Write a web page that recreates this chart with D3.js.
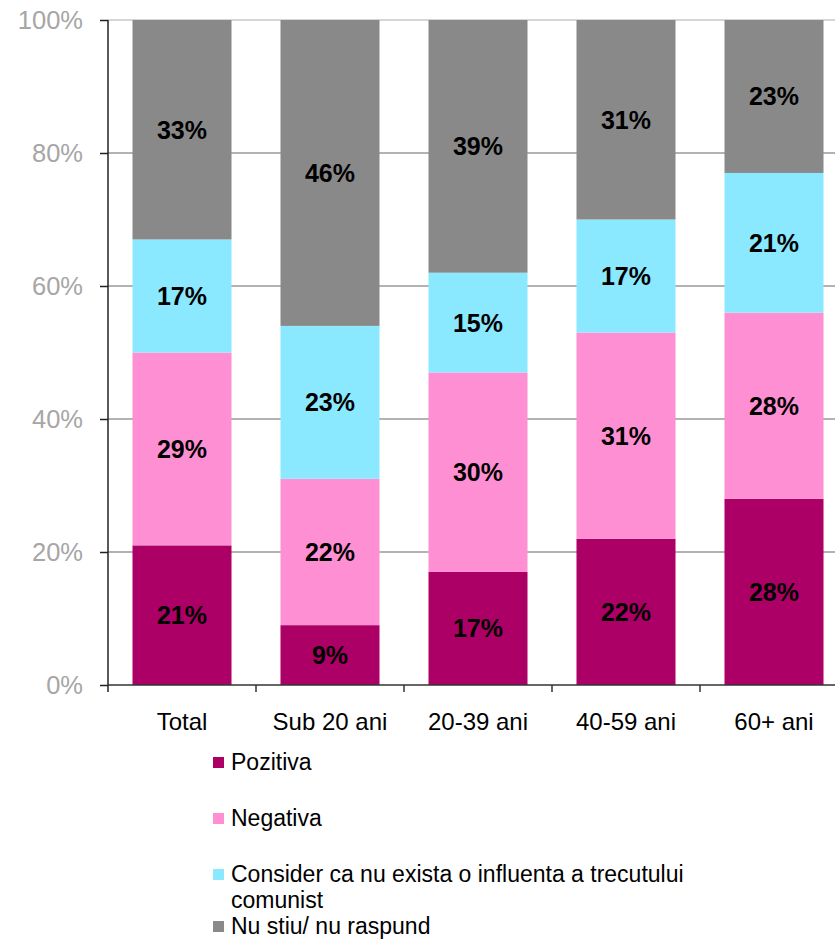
<!DOCTYPE html>
<html>
<head>
<meta charset="utf-8">
<script src="https://cdn.jsdelivr.net/npm/d3@7/dist/d3.min.js"></script>
<style>
  html, body { margin: 0; padding: 0; background: #fff; }
  svg { display: block; font-family: "Liberation Sans", Arial, sans-serif; }
</style>
</head>
<body>
<svg id="chart" width="835" height="939"></svg>
<script>
// Age groups and response shares (percent)
const categories = ["Total", "Sub 20 ani", "20-39 ani", "40-59 ani", "60+ ani"];
const seriesNames = ["Pozitiva", "Negativa", "Consider ca nu exista o influenta a trecutului comunist", "Nu stiu/ nu raspund"];
const pozitiva = [21, 9, 17, 22, 28];
const negativa = [29, 22, 30, 31, 28];
const consider = [17, 23, 15, 17, 21];
const nuStiu   = [33, 46, 39, 31, 23];
const yTicks = [0, 20, 40, 60, 80, 100];
const colors = ["#ad0066", "#ff8fd3", "#8be9ff", "#898989"];

const svg = d3.select("#chart");
const margin = { left: 108, top: 20 };
const plotH = 665;
const plotRight = 848;

const rows = categories.map((c, i) => ({
  cat: c, s0: pozitiva[i], s1: negativa[i], s2: consider[i], s3: nuStiu[i]
}));
const keys = ["s0", "s1", "s2", "s3"];
const stacked = d3.stack().keys(keys)(rows);

const x = d3.scaleBand().domain(categories)
  .range([margin.left, plotRight])
  .paddingInner(0.331).paddingOuter(0.1655);
const y = d3.scaleLinear().domain([0, 100]).range([margin.top + plotH, margin.top]);

// Horizontal gridlines
svg.append("g").selectAll("line").data(yTicks.filter(t => t > 0)).join("line")
  .attr("x1", margin.left).attr("x2", 835)
  .attr("y1", d => y(d)).attr("y2", d => y(d))
  .attr("stroke", d => d === 100 ? "#c8c8c8" : "#999")
  .attr("stroke-width", 1.5);

// Stacked bars
const layers = svg.append("g").selectAll("g").data(stacked).join("g")
  .attr("fill", (d, i) => colors[i]);
layers.selectAll("rect").data(d => d).join("rect")
  .attr("x", d => x(d.data.cat))
  .attr("width", x.bandwidth())
  .attr("y", d => y(Math.min(100, d[1])))
  .attr("height", d => y(d[0]) - y(Math.min(100, d[1])));

// Value labels
stacked.forEach((layer, li) => {
  svg.append("g").selectAll("text").data(layer).join("text")
    .attr("x", d => x(d.data.cat) + x.bandwidth() / 2)
    .attr("y", d => (y(d[0]) + y(Math.min(100, d[1]))) / 2)
    .attr("dy", "0.36em")
    .attr("text-anchor", "middle")
    .attr("font-size", 25).attr("font-weight", "bold").attr("fill", "#000")
    .text(d => (d.data[keys[li]]) + "%");
});

// Y axis
const yAxis = svg.append("g").attr("transform", `translate(${margin.left},0)`)
  .call(d3.axisLeft(y).tickValues(yTicks).tickSize(8).tickPadding(17).tickFormat(d => d + "%"));
yAxis.select(".domain").attr("stroke", "#222").attr("stroke-width", 1.5)
  .attr("d", `M-0,${margin.top}V${margin.top + plotH + 7}`);
yAxis.selectAll(".tick line").attr("stroke", "#222").attr("stroke-width", 1.5);
yAxis.selectAll(".tick text").attr("font-size", 25.5).attr("fill", "#a6a6a6")
  .attr("font-family", "Liberation Sans, Arial, sans-serif");

// X axis baseline with separators between groups
const xg = svg.append("g");
xg.append("line").attr("x1", margin.left).attr("x2", 835)
  .attr("y1", y(0)).attr("y2", y(0)).attr("stroke", "#333").attr("stroke-width", 1.5);
const step = x.step();
xg.selectAll(".sep").data(categories.slice(1)).join("line")
  .attr("x1", d => x(d) - (step - x.bandwidth()) / 2)
  .attr("x2", d => x(d) - (step - x.bandwidth()) / 2)
  .attr("y1", y(0)).attr("y2", y(0) + 7)
  .attr("stroke", "#333").attr("stroke-width", 1.5);
xg.selectAll("text").data(categories).join("text")
  .attr("x", d => x(d) + x.bandwidth() / 2)
  .attr("y", 730)
  .attr("text-anchor", "middle")
  .attr("font-size", 24).attr("fill", "#000")
  .text(d => d);

// Legend
const legendItems = [
  { name: seriesNames[0], lines: ["Pozitiva"], base: 770 },
  { name: seriesNames[1], lines: ["Negativa"], base: 826 },
  { name: seriesNames[2], lines: ["Consider ca nu exista o influenta a trecutului", "comunist"], base: 882 },
  { name: seriesNames[3], lines: ["Nu stiu/ nu raspund"], base: 934 }
];
const lg = svg.append("g");
legendItems.forEach((it, i) => {
  lg.append("rect").attr("x", 213).attr("y", it.base - 13).attr("width", 11).attr("height", 11)
    .attr("fill", colors[i]);
  const t = lg.append("text").attr("x", 231).attr("y", it.base)
    .attr("font-size", 23).attr("fill", "#000");
  it.lines.forEach((ln, k) => {
    t.append("tspan").attr("x", 231).attr("dy", k === 0 ? 0 : 26).text(ln);
  });
});
</script>
</body>
</html>
